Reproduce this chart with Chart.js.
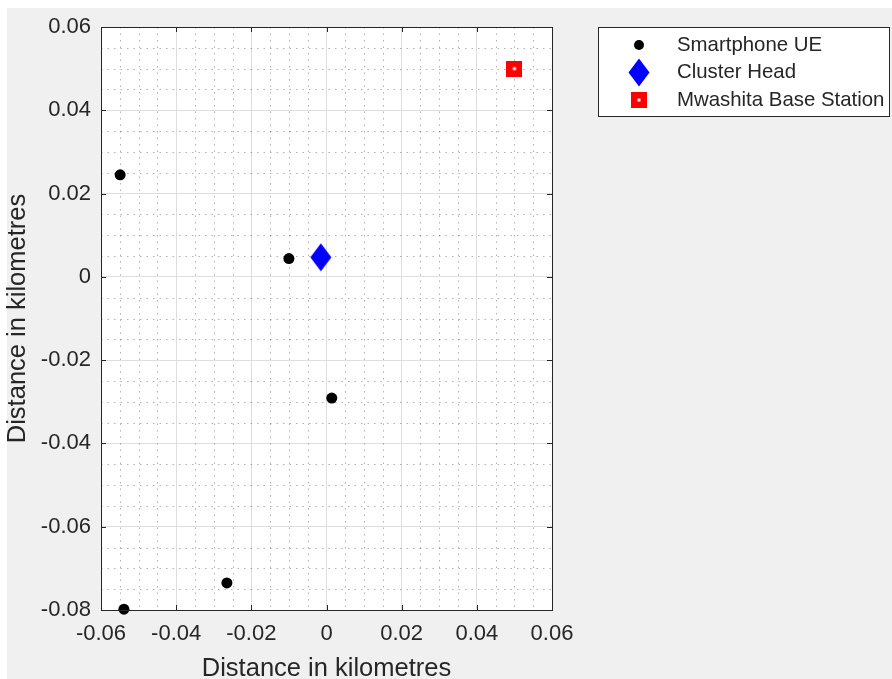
<!DOCTYPE html>
<html lang="en">
<head>
<meta charset="UTF-8">
<title>Cluster layout</title>
<script src="https://cdn.jsdelivr.net/npm/chart.js"></script>
<style>
  html, body { margin: 0; padding: 0; background: #fff; }
  #wrap { width: 892px; height: 679px; position: relative; }
</style>
</head>
<body>
<div id="wrap"><canvas id="chart" width="892" height="679"></canvas></div>
<script>
// positions (km)
const ueX = [-0.0549, -0.0100, 0.0014, -0.0265, -0.0539];
const ueY = [0.0245, 0.0044, -0.0291, -0.0735, -0.0798];
const headX = [-0.0015];
const headY = [0.0047];
const baseX = [0.05];
const baseY = [0.05];

const seriesNames = ['Smartphone UE', 'Cluster Head', 'Mwashita Base Station'];
const axisTitle = 'Distance in kilometres';

const FONT = '"Liberation Sans", Arial, sans-serif';
const TXT = '#262626';

function pts(xs, ys) {
  return xs.map((x, i) => ({ x: x, y: ys[i] }));
}

// marker images (MATLAB style diamond and square)
function diamondImg() {
  const c = document.createElement('canvas');
  c.width = 22; c.height = 29;
  const g = c.getContext('2d');
  g.fillStyle = '#0000ff';
  g.beginPath();
  g.moveTo(11, 0.5); g.lineTo(21.5, 14.5); g.lineTo(11, 28.5); g.lineTo(0.5, 14.5);
  g.closePath(); g.fill();
  return c;
}
function squareImg() {
  const c = document.createElement('canvas');
  c.width = 16; c.height = 16;
  const g = c.getContext('2d');
  g.fillStyle = '#ff0000';
  g.fillRect(0, 0, 16, 16);
  g.fillStyle = '#ffffff';
  g.fillRect(6.5, 6.5, 3, 3);
  return c;
}
const diamond = diamondImg();
const square = squareImg();

function fmt(v) {
  if (Math.abs(v) < 1e-9) return '0';
  return v.toFixed(2);
}

const figurePlugin = {
  id: 'figure',
  beforeDraw(chart) {
    const ctx = chart.ctx, a = chart.chartArea;
    ctx.save();
    ctx.fillStyle = '#f0f0f0';
    ctx.fillRect(7, 8, chart.width - 7, chart.height - 8);
    ctx.fillStyle = '#ffffff';
    ctx.fillRect(a.left, a.top, a.right - a.left, a.bottom - a.top);
    ctx.restore();
  },
  beforeDatasetsDraw(chart) {
    // minor dotted grid every 0.005
    const ctx = chart.ctx, a = chart.chartArea;
    const xs = chart.scales.x, ys = chart.scales.y;
    ctx.save();
    ctx.strokeStyle = 'rgba(0,0,0,0.3)';
    ctx.lineWidth = 1;
    ctx.setLineDash([1.5, 5]);
    for (let k = 0; k <= 24; k++) {
      const v = -0.06 + k * 0.005;
      if (k % 4 === 0) continue;
      const px = Math.round(xs.getPixelForValue(v)) + 0.5;
      ctx.beginPath(); ctx.moveTo(px, a.top); ctx.lineTo(px, a.bottom); ctx.stroke();
    }
    for (let k = 0; k <= 28; k++) {
      const v = -0.08 + k * 0.005;
      if (k % 4 === 0) continue;
      const py = Math.round(ys.getPixelForValue(v)) + 0.5;
      ctx.beginPath(); ctx.moveTo(a.left, py); ctx.lineTo(a.right, py); ctx.stroke();
    }
    ctx.restore();
  },
  afterDatasetsDraw(chart) {
    // axes box with inward tick marks
    const ctx = chart.ctx, a = chart.chartArea;
    const xs = chart.scales.x, ys = chart.scales.y;
    ctx.save();
    ctx.strokeStyle = TXT;
    ctx.lineWidth = 1;
    ctx.strokeRect(Math.round(a.left) + 0.5, Math.round(a.top) + 0.5,
      Math.round(a.right - a.left), Math.round(a.bottom - a.top));
    ctx.beginPath();
    xs.ticks.forEach(t => {
      const px = Math.round(xs.getPixelForValue(t.value)) + 0.5;
      ctx.moveTo(px, a.bottom); ctx.lineTo(px, a.bottom - 5);
      ctx.moveTo(px, a.top); ctx.lineTo(px, a.top + 5);
    });
    ys.ticks.forEach(t => {
      const py = Math.round(ys.getPixelForValue(t.value)) + 0.5;
      ctx.moveTo(a.left, py); ctx.lineTo(a.left + 5, py);
      ctx.moveTo(a.right, py); ctx.lineTo(a.right - 5, py);
    });
    ctx.stroke();
    ctx.restore();
  },
  afterDraw(chart) {
    // legend box
    const ctx = chart.ctx;
    const bx = 598.5, by = 27.5, bw = 291, bh = 89;
    ctx.save();
    ctx.fillStyle = '#ffffff';
    ctx.fillRect(bx, by, bw, bh);
    ctx.strokeStyle = TXT;
    ctx.lineWidth = 1;
    ctx.strokeRect(bx, by, bw, bh);
    const rows = [45, 72.5, 100];
    const mx = 639;
    ctx.fillStyle = '#000000';
    ctx.beginPath(); ctx.arc(mx, rows[0], 5, 0, Math.PI * 2); ctx.fill();
    ctx.drawImage(diamond, mx - 11, rows[1] - 14.5);
    ctx.drawImage(square, mx - 8, rows[2] - 8);
    ctx.fillStyle = TXT;
    ctx.font = '20.4px ' + FONT;
    ctx.textBaseline = 'middle';
    ctx.textAlign = 'left';
    seriesNames.forEach((n, i) => ctx.fillText(n, 677, rows[i]));
    ctx.restore();
  }
};

new Chart(document.getElementById('chart'), {
  type: 'scatter',
  data: {
    datasets: [
      {
        label: seriesNames[0],
        data: pts(ueX, ueY),
        pointStyle: 'circle',
        pointRadius: 5.5,
        backgroundColor: '#000000',
        borderColor: '#000000',
        borderWidth: 0,
        clip: false
      },
      {
        label: seriesNames[1],
        data: pts(headX, headY),
        pointStyle: diamond,
        clip: false
      },
      {
        label: seriesNames[2],
        data: pts(baseX, baseY),
        pointStyle: square,
        clip: false
      }
    ]
  },
  options: {
    responsive: false,
    animation: false,
    events: [],
    layout: { padding: { top: 27, right: 340, bottom: 0, left: 0 } },
    plugins: {
      legend: { display: false },
      tooltip: { enabled: false }
    },
    scales: {
      x: {
        type: 'linear',
        min: -0.06, max: 0.06,
        afterFit(s) { s.height = 69; },
        border: { display: false },
        grid: { color: '#dedede', drawTicks: false },
        ticks: {
          stepSize: 0.02,
          padding: 11,
          color: TXT,
          font: { family: FONT, size: 22 },
          maxRotation: 0,
          callback: v => fmt(v)
        },
        title: {
          display: true,
          text: axisTitle,
          color: TXT,
          font: { family: FONT, size: 25.5 },
          padding: { top: 0, bottom: -5 }
        }
      },
      y: {
        type: 'linear',
        min: -0.08, max: 0.06,
        afterFit(s) { s.width = 101; },
        border: { display: false },
        grid: { color: '#dedede', drawTicks: false },
        ticks: {
          stepSize: 0.02,
          padding: 10,
          color: TXT,
          font: { family: FONT, size: 22 },
          callback: v => fmt(v)
        },
        title: {
          display: true,
          text: axisTitle,
          color: TXT,
          font: { family: FONT, size: 25.5 },
          padding: { top: 3, bottom: 4 }
        }
      }
    }
  },
  plugins: [figurePlugin]
});
</script>
</body>
</html>
